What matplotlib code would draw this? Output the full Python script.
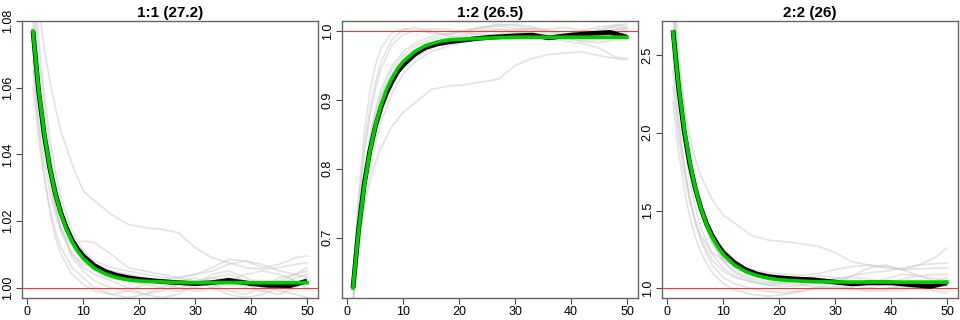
import matplotlib
matplotlib.use("Agg")
import matplotlib.pyplot as plt

plt.rcParams['font.family'] = ['Liberation Sans', 'DejaVu Sans']

# ---- data ----
titles = ["1:1 (27.2)", "1:2 (26.5)", "2:2 (26)"]

# x positions for the thin grey runs
xg = [1, 2, 3, 4, 5, 6, 8, 10, 12, 15, 18, 21, 24, 27, 30, 33, 36, 39, 42, 45, 48, 50]
# x positions for mean and fitted curves
xm = [1, 2, 3, 4, 5, 6, 7, 8, 9, 10, 12, 14, 16, 18, 20, 23, 26, 30, 33, 36, 40, 43, 47, 50]

grey_11 = [
    [1.100, 1.085, 1.072, 1.062, 1.054, 1.047, 1.037, 1.029, 1.026, 1.022, 1.019, 1.018, 1.0175, 1.0165, 1.012, 1.009, 1.0075, 1.006, 1.0055, 1.006, 1.007, 1.0075],
    [1.065, 1.050, 1.038, 1.029, 1.022, 1.017, 1.013, 1.014, 1.0135, 1.010, 1.006, 1.005, 1.004, 1.003, 1.004, 1.006, 1.0085, 1.008, 1.006, 1.007, 1.009, 1.0095],
    [1.090, 1.070, 1.054, 1.041, 1.031, 1.024, 1.014, 1.008, 1.005, 1.003, 1.002, 1.001, 1.000, 0.999, 1.000, 1.002, 1.003, 1.001, 0.999, 0.998, 1.000, 1.003],
    [1.060, 1.045, 1.033, 1.024, 1.017, 1.012, 1.006, 1.003, 1.000, 0.998, 0.997, 0.998, 1.000, 1.002, 1.003, 1.001, 0.999, 0.998, 1.000, 1.003, 1.004, 1.005],
    [1.072, 1.055, 1.042, 1.032, 1.024, 1.018, 1.010, 1.006, 1.004, 1.002, 1.000, 0.998, 0.997, 0.998, 1.001, 1.004, 1.005, 1.003, 1.001, 0.999, 0.998, 0.997],
    [1.085, 1.062, 1.046, 1.034, 1.025, 1.018, 1.010, 1.007, 1.006, 1.003, 1.002, 1.003, 1.002, 1.000, 0.999, 1.000, 1.002, 1.004, 1.005, 1.004, 1.002, 1.001],
    [1.068, 1.048, 1.034, 1.023, 1.015, 1.010, 1.004, 1.001, 0.999, 0.998, 0.999, 1.001, 1.002, 1.003, 1.002, 1.000, 0.998, 0.997, 0.998, 1.000, 1.001, 1.000],
    [1.095, 1.075, 1.058, 1.045, 1.035, 1.027, 1.017, 1.011, 1.008, 1.006, 1.005, 1.004, 1.003, 1.003, 1.004, 1.005, 1.007, 1.008, 1.007, 1.005, 1.004, 1.003],
    [1.080, 1.060, 1.045, 1.033, 1.024, 1.017, 1.009, 1.005, 1.002, 1.000, 0.999, 0.998, 0.999, 1.001, 1.002, 1.003, 1.002, 1.000, 0.999, 1.001, 1.003, 1.004],
    [1.075, 1.058, 1.045, 1.035, 1.027, 1.021, 1.013, 1.009, 1.007, 1.005, 1.004, 1.003, 1.001, 1.000, 1.001, 1.003, 1.004, 1.002, 1.001, 1.002, 1.004, 1.006],
]
grey_12 = [
    [0.640, 0.700, 0.745, 0.780, 0.808, 0.830, 0.862, 0.882, 0.895, 0.915, 0.920, 0.922, 0.926, 0.930, 0.950, 0.960, 0.966, 0.968, 0.970, 0.964, 0.960, 0.958],
    [0.640, 0.760, 0.850, 0.910, 0.950, 0.975, 0.998, 1.003, 1.001, 0.997, 0.995, 0.999, 1.004, 1.008, 1.010, 1.006, 1.001, 0.996, 0.998, 1.003, 1.006, 1.004],
    [0.610, 0.700, 0.770, 0.825, 0.865, 0.895, 0.935, 0.955, 0.968, 0.980, 0.988, 0.993, 0.998, 1.002, 1.000, 0.995, 0.990, 0.985, 0.982, 0.975, 0.962, 0.960],
    [0.630, 0.740, 0.820, 0.875, 0.915, 0.945, 0.980, 0.995, 1.000, 1.003, 1.002, 0.998, 0.995, 0.994, 0.996, 1.000, 1.003, 1.005, 1.001, 0.997, 0.994, 0.993],
    [0.620, 0.710, 0.780, 0.835, 0.875, 0.905, 0.937, 0.945, 0.960, 0.975, 0.985, 0.990, 0.993, 0.995, 0.998, 1.004, 1.000, 0.993, 0.990, 0.995, 1.002, 1.004],
    [0.600, 0.690, 0.760, 0.815, 0.858, 0.890, 0.930, 0.955, 0.970, 0.982, 0.990, 0.996, 1.001, 1.003, 1.000, 0.996, 0.994, 0.990, 0.985, 0.988, 0.995, 0.998],
    [0.650, 0.750, 0.830, 0.885, 0.925, 0.955, 0.988, 1.002, 1.005, 1.000, 0.993, 0.988, 0.991, 0.997, 1.002, 1.004, 0.998, 0.992, 0.990, 0.996, 1.003, 1.001],
    [0.635, 0.725, 0.795, 0.845, 0.885, 0.915, 0.950, 0.970, 0.982, 0.992, 0.997, 1.001, 1.006, 1.010, 1.008, 1.002, 0.995, 0.989, 0.992, 1.000, 1.008, 1.010],
    [0.600, 0.680, 0.745, 0.795, 0.835, 0.868, 0.910, 0.938, 0.955, 0.970, 0.978, 0.984, 0.988, 0.990, 0.993, 0.995, 0.994, 0.990, 0.985, 0.983, 0.987, 0.990],
    [0.625, 0.720, 0.790, 0.842, 0.880, 0.908, 0.945, 0.965, 0.978, 0.988, 0.994, 1.000, 1.005, 1.007, 1.004, 0.998, 0.992, 0.995, 1.001, 1.006, 1.009, 1.006],
]
grey_22 = [
    [2.800, 2.450, 2.180, 1.980, 1.830, 1.720, 1.570, 1.470, 1.420, 1.340, 1.310, 1.300, 1.285, 1.270, 1.230, 1.170, 1.150, 1.130, 1.120, 1.125, 1.130, 1.130],
    [2.300, 1.980, 1.740, 1.560, 1.430, 1.340, 1.230, 1.180, 1.150, 1.120, 1.100, 1.090, 1.085, 1.095, 1.120, 1.140, 1.150, 1.140, 1.120, 1.150, 1.200, 1.260],
    [2.900, 2.450, 2.100, 1.840, 1.640, 1.490, 1.290, 1.170, 1.100, 1.050, 1.020, 1.010, 1.020, 1.040, 1.060, 1.080, 1.100, 1.110, 1.130, 1.150, 1.160, 1.160],
    [2.500, 2.100, 1.800, 1.580, 1.420, 1.300, 1.150, 1.070, 1.030, 1.000, 0.980, 0.970, 0.985, 1.010, 1.030, 1.020, 1.000, 0.985, 0.990, 1.020, 1.050, 1.070],
    [2.650, 2.250, 1.940, 1.700, 1.520, 1.390, 1.220, 1.130, 1.080, 1.040, 1.020, 1.030, 1.060, 1.080, 1.070, 1.050, 1.040, 1.060, 1.090, 1.080, 1.060, 1.050],
    [3.000, 2.550, 2.180, 1.900, 1.680, 1.510, 1.300, 1.180, 1.110, 1.060, 1.040, 1.030, 1.020, 1.010, 1.000, 0.990, 1.000, 1.030, 1.060, 1.080, 1.090, 1.090],
    [2.400, 2.050, 1.780, 1.580, 1.430, 1.320, 1.180, 1.110, 1.070, 1.040, 1.030, 1.040, 1.050, 1.040, 1.020, 1.000, 0.980, 0.990, 1.020, 1.040, 1.030, 1.010],
    [2.750, 2.350, 2.040, 1.800, 1.620, 1.480, 1.300, 1.200, 1.140, 1.090, 1.060, 1.050, 1.040, 1.030, 1.040, 1.080, 1.130, 1.150, 1.120, 1.080, 1.040, 1.020],
    [2.200, 1.880, 1.640, 1.460, 1.330, 1.230, 1.100, 1.030, 0.990, 0.960, 0.950, 0.960, 0.980, 1.000, 1.010, 1.000, 0.990, 1.000, 1.010, 1.000, 0.980, 0.970],
    [2.850, 2.400, 2.060, 1.810, 1.620, 1.480, 1.290, 1.190, 1.140, 1.100, 1.080, 1.060, 1.050, 1.050, 1.060, 1.070, 1.060, 1.040, 1.020, 1.010, 1.020, 1.040],
]

mean_11 = [1.0770, 1.0592, 1.0460, 1.0360, 1.0283, 1.0224, 1.0179, 1.0143, 1.0116, 1.0095, 1.0066, 1.0048,
           1.0037, 1.0030, 1.0025, 1.0020, 1.0016, 1.0012, 1.0015, 1.0022, 1.0012, 1.0007, 1.0006, 1.0020]
fit_11 = [1.0770, 1.0597, 1.0464, 1.0361, 1.0282, 1.0221, 1.0174, 1.0137, 1.0109, 1.0087, 1.0058, 1.0041,
          1.0030, 1.0024, 1.0020, 1.0018, 1.0016, 1.0015, 1.0015, 1.0015, 1.0015, 1.0015, 1.0015, 1.0015]
mean_12 = [0.627, 0.712, 0.777, 0.825, 0.861, 0.889, 0.910, 0.927, 0.941, 0.951, 0.966, 0.976,
           0.981, 0.984, 0.986, 0.989, 0.991, 0.993, 0.994, 0.990, 0.994, 0.996, 0.998, 0.991]
fit_12 = [0.627, 0.710, 0.774, 0.824, 0.862, 0.892, 0.915, 0.932, 0.946, 0.956, 0.970, 0.979,
          0.984, 0.987, 0.988, 0.989, 0.990, 0.991, 0.991, 0.991, 0.991, 0.991, 0.991, 0.991]
mean_22 = [2.660, 2.290, 2.010, 1.800, 1.640, 1.515, 1.415, 1.340, 1.280, 1.230, 1.165, 1.120,
           1.092, 1.076, 1.068, 1.060, 1.055, 1.040, 1.028, 1.035, 1.035, 1.025, 1.012, 1.035]
fit_22 = [2.650, 2.301, 2.027, 1.813, 1.644, 1.513, 1.410, 1.330, 1.267, 1.217, 1.149, 1.107,
          1.081, 1.065, 1.055, 1.048, 1.043, 1.041, 1.040, 1.040, 1.040, 1.040, 1.040, 1.040]

ylims = [(0.9969, 1.0800), (0.6125, 1.0145), (0.9377, 2.7185)]
yticks = [[1.00, 1.02, 1.04, 1.06, 1.08], [0.7, 0.8, 0.9, 1.0], [1.0, 1.5, 2.0, 2.5]]
yfmt = ["{:.2f}", "{:.1f}", "{:.1f}"]
xticks = [0, 10, 20, 30, 40, 50]

greys = [grey_11, grey_12, grey_22]
means = [mean_11, mean_12, mean_22]
fits = [fit_11, fit_12, fit_22]

fig = plt.figure(figsize=(9.6, 3.2), dpi=100)
lefts = [22 / 960, 342 / 960, 662 / 960]

for i in range(3):
    ax = fig.add_axes([lefts[i], 22 / 320, 296 / 960, 277 / 320])
    for g in greys[i]:
        ax.plot(xg, g, color='#cccccc', lw=1.2, alpha=0.55)
    ax.axhline(1.0, color='#ff3333', lw=0.8)
    ax.plot(xm, means[i], color='black', lw=3.4, solid_capstyle='butt')
    ax.plot(xm, fits[i], color='#00cc00', lw=2.6)

    ax.set_xlim(-0.96, 51.96)
    ax.set_ylim(*ylims[i])
    ax.set_xticks(xticks)
    ax.set_yticks(yticks[i])
    ax.set_yticklabels([yfmt[i].format(t) for t in yticks[i]], rotation=90, va='center')
    ax.tick_params(labelsize=9, length=4, width=0.8, color='#444444', pad=2)
    for s in ax.spines.values():
        s.set_color('#666666')
        s.set_linewidth(1.0)
    ax.set_title(titles[i], fontsize=11, fontweight='bold', pad=3)

fig.savefig('out.png', dpi=100)
